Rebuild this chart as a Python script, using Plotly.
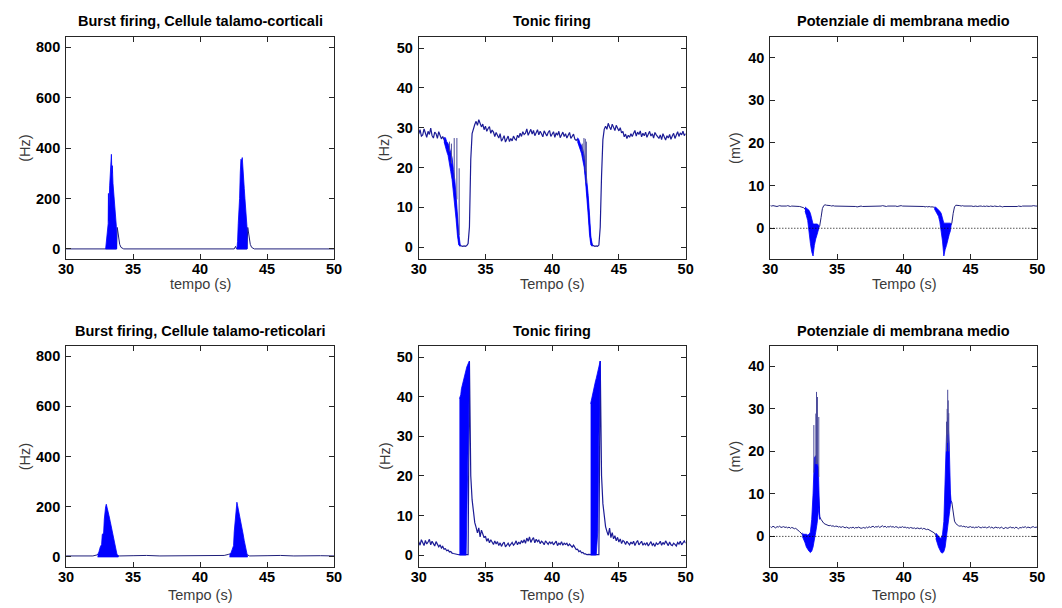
import numpy as np
import plotly.graph_objects as go
from plotly.subplots import make_subplots

FONT = "Liberation Sans, Arial, sans-serif"
LINE = "#1f1f7a"
NOISY = "#1c1c96"
FILL = "#0000ff"

# sampling grid for the noisy traces (s)
t_grid = np.round(np.arange(300, 501) / 10.0, 1)

# ---- top row: thalamo-cortical cells ----
tc_burst_t = [30.0, 32.9, 33.76, 33.82, 33.9, 34.0, 34.1, 34.2, 34.3,
              42.55, 42.65, 42.72, 43.5, 43.56, 43.65, 43.75, 43.85, 43.95, 44.05, 50.0]
tc_burst_hz = [0, 0, 0, 85, 45, 18, 6, 2, 0,
               0, 10, 0, 0, 85, 45, 18, 6, 2, 0, 0]
tc_burst_band1_t = [32.95, 33.0, 33.05, 33.1, 33.14, 33.16, 33.18, 33.2, 33.25, 33.3, 33.35, 33.38,
                    33.42, 33.45, 33.5, 33.55, 33.6, 33.65, 33.7, 33.75, 33.78]
tc_burst_band1_hi = [0, 30, 60, 100, 100, 220, 110, 160, 250, 300, 340, 375,
                     300, 330, 260, 230, 170, 155, 140, 90, 0]
tc_burst_band2_t = [42.75, 42.8, 42.85, 42.9, 42.95, 43.0, 43.05, 43.1, 43.15, 43.2, 43.25, 43.3,
                    43.35, 43.4, 43.45, 43.5, 43.52]
tc_burst_band2_hi = [0, 30, 100, 140, 200, 300, 355, 350, 362, 300, 280, 240,
                     200, 150, 140, 90, 0]

tc_tonic_hz = [
    28.4, 29.5, 27.9, 28.2, 29.7, 28.8, 27.6, 29.1, 28.3, 29.9,  # 30
    28.0, 27.4, 28.9, 28.5, 27.3, 29.0, 28.1, 27.2, 27.8, 26.9,  # 31
    26.0, 25.4, 24.5, 23.0, 21.5, 19.5, 16.5, 14.0, 10.0, 5.5,   # 32
    1.5, 0.4, 0.3, 0.2, 0.3, 0.2, 0.4, 0.9, 5.0, 22.0,           # 33
    28.5, 30.0, 30.8, 31.6, 30.6, 32.0, 31.1, 30.2, 30.9, 29.5,  # 34
    30.4, 29.1, 29.8, 30.3, 28.6, 29.4, 28.9, 27.8, 28.8, 28.2,  # 35
    27.4, 28.5, 26.6, 27.2, 28.0, 26.4, 27.1, 27.9, 26.5, 27.3,  # 36
    26.7, 27.9, 27.2, 26.9, 28.1, 27.5, 28.6, 27.8, 29.0, 28.3,  # 37
    28.6, 29.7, 28.1, 28.8, 29.6, 28.4, 29.3, 28.0, 28.9, 29.5,  # 38
    28.2, 29.1, 28.5, 27.7, 29.2, 28.6, 27.9, 28.8, 29.3, 27.8,  # 39
    28.4, 29.0, 27.6, 28.7, 28.1, 29.1, 27.5, 28.3, 28.9, 27.8,  # 40
    28.5, 27.4, 28.2, 28.8, 27.3, 27.9, 28.4, 27.1, 26.8, 27.2,  # 41
    26.0, 25.2, 24.5, 23.2, 21.5, 18.2, 15.0, 10.5, 5.5, 1.5,    # 42
    0.5, 0.3, 0.2, 0.3, 0.2, 0.5, 5.0, 18.0, 27.0, 29.6,         # 43
    30.4, 29.6, 31.1, 30.2, 29.5, 30.9, 30.0, 29.3, 30.6, 29.8,  # 44
    29.2, 30.0, 28.7, 29.1, 27.7, 28.4, 27.3, 28.1, 27.6, 28.5,  # 45
    27.8, 28.6, 29.3, 27.9, 28.9, 28.3, 29.2, 27.7, 28.6, 28.0,  # 46
    28.9, 27.6, 28.4, 29.1, 27.9, 28.5, 27.4, 28.8, 28.2, 27.6,  # 47
    27.3, 28.2, 27.0, 28.5, 27.6, 26.9, 28.0, 27.4, 28.3, 27.1,  # 48
    27.9, 28.6, 27.3, 28.4, 29.0, 27.8, 28.7, 28.2, 29.1, 28.0,  # 49
    28.5,
]
tc_tonic_band1_t = [31.9, 32.0, 32.1, 32.2, 32.3, 32.4, 32.5, 32.6, 32.7, 32.8, 32.9, 33.0, 33.1]
tc_tonic_band1_lo = [26.5, 25.5, 24.0, 23.0, 21.5, 19.0, 17.0, 14.0, 11.0, 7.0, 3.0, 0.5, 0.2]
tc_tonic_band1_hi = [27.5, 27.5, 26.5, 26.0, 25.0, 24.0, 22.5, 19.5, 17.0, 13.0, 8.0, 3.5, 0.8]
tc_tonic_band2_t = [41.9, 42.0, 42.1, 42.2, 42.3, 42.4, 42.5, 42.6, 42.7, 42.8, 42.9, 43.0]
tc_tonic_band2_lo = [26.5, 25.5, 24.5, 23.5, 22.0, 20.0, 16.5, 13.0, 8.0, 3.0, 0.5, 0.2]
tc_tonic_band2_hi = [27.5, 27.0, 26.0, 25.5, 24.5, 23.0, 20.0, 17.0, 13.0, 8.0, 2.5, 0.8]
tc_tonic_spike_t = [32.3, 32.45, 32.66, 32.86, 33.03, 42.25, 42.38, 42.48, 42.56]
tc_tonic_spike_base = [24.0, 21.0, 17.0, 12.0, 3.0, 24.0, 22.0, 19.0, 16.0]
tc_tonic_spike_top = [26.5, 26.0, 27.4, 27.4, 19.8, 26.0, 27.4, 27.2, 26.5]

tc_mem_mv = [
    5.3, 5.2, 5.3, 5.2, 5.2, 5.1, 5.2, 5.3, 5.2, 5.2,   # 30
    5.1, 5.2, 5.2, 5.3, 5.2, 5.1, 5.2, 5.2, 5.1, 5.2,   # 31
    5.1, 5.2, 5.1, 5.0, 4.9, 4.8, 4.5, 4.0, 3.2, 2.0,   # 32
    0.0, -2.0, -3.0, -1.5, -0.7, -0.2, 0.2, 0.6, 2.5, 4.6,  # 33
    5.3, 5.5, 5.4, 5.4, 5.3, 5.3, 5.2, 5.3, 5.2, 5.2,   # 34
    5.2, 5.1, 5.2, 5.2, 5.1, 5.2, 5.1, 5.2, 5.2, 5.1,   # 35
    5.2, 5.1, 5.1, 5.2, 5.1, 5.0, 5.1, 5.1, 5.2, 5.1,   # 36
    5.1, 5.2, 5.1, 5.1, 5.2, 5.1, 5.2, 5.2, 5.1, 5.2,   # 37
    5.2, 5.1, 5.2, 5.2, 5.3, 5.2, 5.2, 5.1, 5.2, 5.2,   # 38
    5.2, 5.2, 5.3, 5.2, 5.2, 5.1, 5.2, 5.2, 5.3, 5.2,   # 39
    5.2, 5.1, 5.2, 5.2, 5.1, 5.2, 5.2, 5.1, 5.2, 5.1,   # 40
    5.2, 5.1, 5.1, 5.2, 5.1, 5.1, 5.0, 5.1, 5.0, 5.1,   # 41
    5.0, 5.0, 5.0, 4.8, 4.4, 4.0, 3.6, 2.8, 1.5, -0.3,  # 42
    -2.5, -2.0, -1.5, -1.0, 0.0, 0.6, 1.2, 3.5, 5.0, 5.4,  # 43
    5.4, 5.3, 5.3, 5.2, 5.3, 5.2, 5.2, 5.3, 5.2, 5.2,   # 44
    5.2, 5.2, 5.1, 5.2, 5.2, 5.1, 5.2, 5.2, 5.2, 5.1,   # 45
    5.2, 5.1, 5.2, 5.1, 5.1, 5.2, 5.1, 5.1, 5.2, 5.1,   # 46
    5.1, 5.1, 5.2, 5.1, 5.0, 5.1, 5.1, 5.0, 5.1, 5.1,   # 47
    5.0, 5.1, 5.1, 5.0, 5.1, 5.1, 5.2, 5.1, 5.1, 5.2,   # 48
    5.2, 5.1, 5.2, 5.2, 5.1, 5.2, 5.2, 5.3, 5.2, 5.2,   # 49
    5.2,
]
tc_mem_band1_t = [32.6, 32.7, 32.8, 32.9, 33.0, 33.1, 33.2, 33.3, 33.4, 33.5, 33.6, 33.65]
tc_mem_band1_lo = [4.0, 3.0, 1.8, 0.0, -3.5, -5.5, -6.5, -4.0, -2.5, -1.5, -0.5, 0.2]
tc_mem_band1_hi = [5.0, 4.8, 4.6, 4.2, 3.5, 2.0, 1.0, 1.0, 1.0, 1.0, 0.8, 0.6]
tc_mem_band2_t = [42.3, 42.4, 42.5, 42.6, 42.7, 42.8, 42.9, 43.0, 43.1, 43.2, 43.3, 43.4, 43.5, 43.55]
tc_mem_band2_lo = [4.5, 3.9, 3.5, 2.8, 1.5, -0.5, -3.0, -6.5, -5.0, -4.0, -3.0, -1.5, -0.5, 0.5]
tc_mem_band2_hi = [5.0, 4.9, 4.6, 4.4, 4.0, 3.5, 2.5, 1.2, 1.2, 1.2, 1.2, 1.2, 1.2, 1.0]

# ---- bottom row: thalamo-reticular cells ----
tr_burst_t = [30.0, 31.0, 32.0, 32.3, 32.35, 33.9, 34.0, 35.0, 36.0, 37.0, 38.0, 39.0,
              40.0, 41.0, 41.8, 42.1, 42.2, 43.55, 43.7, 45.0, 46.0, 47.0, 48.0, 49.0, 50.0]
tr_burst_hz = [4, 5, 4, 8, 10, 5, 4, 5, 6, 4, 5, 4,
               5, 6, 6, 10, 12, 8, 4, 5, 6, 4, 5, 5, 4]
tr_burst_band1_t = [32.35, 32.45, 32.55, 32.65, 32.7, 32.8, 32.85, 32.9, 32.95, 33.0, 33.05,
                    33.1, 33.2, 33.3, 33.4, 33.5, 33.6, 33.7, 33.8, 33.9]
tr_burst_band1_hi = [8, 20, 40, 50, 90, 95, 150, 190, 200, 210, 195,
                     180, 165, 140, 115, 80, 55, 30, 10, 5]
tr_burst_band2_t = [42.2, 42.3, 42.4, 42.45, 42.5, 42.55, 42.6, 42.65, 42.7, 42.75, 42.8,
                    42.9, 43.0, 43.1, 43.2, 43.3, 43.4, 43.5, 43.55]
tr_burst_band2_hi = [8, 15, 30, 45, 45, 100, 130, 180, 210, 218, 205,
                     180, 155, 125, 95, 65, 40, 18, 8]

tr_tonic_hz = [
    3.4, 2.5, 3.9, 3.1, 2.4, 3.7, 2.8, 3.3, 4.0, 2.6,   # 30
    3.5, 2.9, 2.3, 3.4, 2.7, 2.1, 2.6, 1.8, 2.2, 1.5,   # 31
    1.6, 1.1, 1.3, 0.8, 0.9, 0.5, 0.4, 0.3, 0.2, 0.1,   # 32
    0.1, 0.1, 0.1, 0.1, 0.1, 0.1, 0.1, 0.1, 49.0, 20.0,  # 33
    14.0, 10.5, 8.2, 7.0, 5.6, 6.9, 4.6, 6.3, 5.0, 4.4,  # 34
    4.8, 3.5, 4.2, 3.1, 3.9, 3.3, 2.7, 3.6, 2.8, 3.4,   # 35
    2.4, 3.1, 2.2, 2.9, 3.3, 2.1, 2.7, 3.0, 2.3, 2.8,   # 36
    3.2, 2.5, 2.9, 3.6, 2.6, 3.3, 2.8, 3.7, 3.1, 3.9,   # 37
    3.0, 4.3, 3.5, 4.6, 3.2, 3.9, 4.4, 3.1, 4.0, 3.4,   # 38
    3.8, 2.9, 3.5, 3.2, 2.6, 3.6, 3.0, 2.7, 3.4, 2.9,   # 39
    3.3, 2.6, 3.1, 3.5, 2.4, 3.0, 2.7, 3.4, 2.5, 3.0,   # 40
    2.7, 3.0, 2.3, 2.8, 2.4, 2.0, 2.5, 1.8, 1.4, 1.5,   # 41
    0.9, 1.1, 0.6, 0.7, 0.3, 0.3, 0.1, 0.2, 0.1, 0.1,   # 42
    0.1, 0.1, 0.1, 0.1, 0.1, 0.1, 49.0, 20.0, 13.0, 9.0,  # 43
    7.2, 6.0, 5.0, 6.8, 4.4, 5.7, 4.1, 4.9, 3.6, 4.5,   # 44
    3.3, 4.1, 2.9, 3.7, 3.4, 2.7, 3.5, 3.0, 2.6, 3.3,   # 45
    2.8, 3.5, 2.4, 3.2, 3.7, 2.6, 3.1, 3.5, 2.5, 3.0,   # 46
    2.6, 3.2, 2.3, 2.9, 3.4, 2.5, 2.9, 2.2, 3.1, 2.7,   # 47
    2.9, 3.5, 2.5, 3.2, 2.7, 3.6, 2.8, 2.4, 3.3, 2.6,   # 48
    2.4, 3.0, 2.7, 2.3, 3.2, 2.8, 3.5, 2.6, 3.1, 3.6,   # 49
    3.0,
]
tr_tonic_band1_t = [33.05, 33.1, 33.15, 33.2, 33.3, 33.4, 33.5, 33.55, 33.6, 33.7, 33.8]
tr_tonic_band1_lo = [0.0, 0.0, 0.0, 0.0, 0.0, 0.0, 0.0, 0.0, 6.0, 25.0, 45.0]
tr_tonic_band1_hi = [39.5, 40.0, 40.5, 42.0, 43.5, 45.0, 46.0, 46.8, 47.5, 48.3, 49.0]
tr_tonic_band2_t = [42.88, 42.95, 43.05, 43.15, 43.25, 43.3, 43.35, 43.42, 43.5, 43.6]
tr_tonic_band2_lo = [0.0, 0.0, 0.0, 0.0, 0.0, 0.0, 0.0, 6.0, 30.0, 45.0]
tr_tonic_band2_hi = [38.2, 39.5, 40.8, 42.5, 44.0, 44.6, 45.5, 46.5, 47.5, 49.0]

tr_mem_mv = [
    2.3, 2.1, 2.4, 2.2, 2.0, 2.3, 2.2, 2.4, 2.1, 2.2,   # 30
    2.3, 2.1, 2.2, 2.0, 2.2, 1.9, 2.1, 2.0, 1.8, 1.9,   # 31
    1.7, 1.4, 1.1, 0.8, 0.4, 0.0, -0.5, -1.0, -1.4, -1.6,  # 32
    -1.4, 0.2, 3.0, 8.0, 10.0, 10.5, 10.0, 4.6, 4.0, 3.4,  # 33
    3.1, 2.9, 2.8, 2.7, 2.5, 2.6, 2.4, 2.5, 2.3, 2.4,   # 34
    2.4, 2.2, 2.3, 2.1, 2.3, 2.2, 2.0, 2.2, 2.1, 1.9,   # 35
    2.1, 2.0, 2.2, 1.9, 2.1, 2.0, 2.2, 2.1, 1.9, 2.0,   # 36
    2.1, 1.9, 2.2, 2.0, 2.3, 2.1, 2.2, 2.4, 2.1, 2.3,   # 37
    2.2, 2.4, 2.1, 2.3, 2.5, 2.2, 2.4, 2.1, 2.3, 2.2,   # 38
    2.4, 2.2, 2.3, 2.1, 2.3, 2.2, 2.0, 2.2, 2.1, 2.3,   # 39
    2.1, 2.2, 2.0, 2.1, 1.9, 2.1, 2.0, 1.9, 2.0, 1.8,   # 40
    2.0, 1.9, 1.8, 2.0, 1.7, 1.9, 1.8, 1.6, 1.7, 1.5,   # 41
    1.5, 1.3, 1.0, 0.8, 0.2, -0.5, -1.2, -1.8, -2.2, -1.7,  # 42
    -0.8, 4.5, 10.0, 14.0, 12.0, 8.5, 8.0, 5.5, 3.6, 3.0,  # 43
    2.7, 2.5, 2.4, 2.5, 2.3, 2.4, 2.2, 2.3, 2.1, 2.2,   # 44
    2.3, 2.1, 2.2, 2.0, 2.2, 2.1, 2.3, 2.1, 2.0, 2.2,   # 45
    2.1, 2.2, 2.0, 2.1, 2.3, 2.0, 2.2, 1.9, 2.1, 2.2,   # 46
    2.0, 2.1, 1.9, 2.2, 2.0, 1.8, 2.1, 2.0, 1.9, 2.1,   # 47
    2.2, 2.0, 2.1, 1.9, 2.2, 2.0, 1.8, 2.1, 2.0, 2.2,   # 48
    2.1, 2.3, 2.0, 2.2, 2.1, 2.0, 2.2, 2.3, 2.1, 2.2,   # 49
    2.2,
]
tr_mem_band1_t = [32.4, 32.5, 32.6, 32.7, 32.8, 32.9, 33.0, 33.1, 33.2, 33.25, 33.3, 33.4,
                  33.5, 33.6, 33.65, 33.7]
tr_mem_band1_lo = [0.0, -0.8, -1.5, -2.5, -3.0, -3.5, -3.8, -3.5, -2.5, -2.0, -1.0, 1.0,
                   3.0, 5.0, 7.0, 4.0]
tr_mem_band1_hi = [0.8, 0.5, 0.5, 0.5, 0.3, 0.5, 1.0, 4.0, 10.0, 17.0, 18.5, 19.0,
                   18.0, 16.0, 12.0, 5.0]
tr_mem_band2_t = [42.4, 42.5, 42.6, 42.7, 42.8, 42.9, 43.0, 43.1, 43.2, 43.3, 43.4, 43.5, 43.55]
tr_mem_band2_lo = [-0.5, -1.5, -2.5, -3.3, -3.8, -3.9, -3.6, -2.5, -1.0, 1.5, 5.0, 7.5, 8.0]
tr_mem_band2_hi = [0.8, 0.4, 0.0, -0.3, -0.5, 0.5, 3.5, 16.0, 24.0, 28.0, 22.0, 10.0, 8.6]
tr_mem_spike_t = [33.26, 33.41, 33.46, 33.53, 33.63, 43.2, 43.25, 43.29, 43.33, 43.37]
tr_mem_spike_base = [15, 17, 17, 17, 14, 20, 22, 24, 24, 20]
tr_mem_spike_top = [26.2, 28.9, 34.0, 32.8, 28.1, 27.0, 30.0, 34.5, 32.0, 29.0]

zero_level = 0

titles = ["Burst firing, Cellule talamo-corticali", "Tonic firing", "Potenziale di membrana medio",
          "Burst firing, Cellule talamo-reticolari", "Tonic firing", "Potenziale di membrana medio"]
y_labels = ["(Hz)", "(Hz)", "(mV)", "(Hz)", "(Hz)", "(mV)"]
x_labels = ["tempo (s)", "Tempo (s)", "Tempo (s)", "Tempo (s)", "Tempo (s)", "Tempo (s)"]
x_ticks = [30, 35, 40, 45, 50]
y_ticks = [[0, 200, 400, 600, 800], [0, 10, 20, 30, 40, 50], [0, 10, 20, 30, 40]] * 2
y_ranges = [[-40, 840], [-3, 52.8], [-7.2, 44.8]] * 2

for arr in (tc_tonic_hz, tc_mem_mv, tr_tonic_hz, tr_mem_mv):
    assert len(arr) == len(t_grid)


def band_xy(t, hi, lo=None):
    if lo is None:
        lo = [0] * len(t)
    return list(t) + list(t)[::-1], list(hi) + list(lo)[::-1]


def spikes_xy(t, base, top):
    xs, ys = [], []
    for a, b, c in zip(t, base, top):
        xs += [a, a, None]
        ys += [b, c, None]
    return xs, ys


fig = make_subplots(rows=2, cols=3)


def add_line(x, y, r, c, color=LINE, width=1):
    fig.add_trace(go.Scatter(x=list(x), y=y, mode="lines", line=dict(color=color, width=width),
                             hoverinfo="skip", showlegend=False), row=r, col=c)


def add_band(t, hi, lo, r, c):
    bx, by = band_xy(t, hi, lo)
    fig.add_trace(go.Scatter(x=bx, y=by, mode="lines", fill="toself", fillcolor=FILL,
                             line=dict(color=FILL, width=0.8), hoverinfo="skip",
                             showlegend=False), row=r, col=c)


def add_spikes(t, base, top, r, c):
    sx, sy = spikes_xy(t, base, top)
    fig.add_trace(go.Scatter(x=sx, y=sy, mode="lines", line=dict(color="#4a4a9a", width=1),
                             hoverinfo="skip", showlegend=False), row=r, col=c)


# panel 1
add_line(tc_burst_t, tc_burst_hz, 1, 1)
add_band(tc_burst_band1_t, tc_burst_band1_hi, None, 1, 1)
add_band(tc_burst_band2_t, tc_burst_band2_hi, None, 1, 1)
# panel 2
add_line(t_grid, tc_tonic_hz, 1, 2, NOISY, 1.2)
add_band(tc_tonic_band1_t, tc_tonic_band1_hi, tc_tonic_band1_lo, 1, 2)
add_band(tc_tonic_band2_t, tc_tonic_band2_hi, tc_tonic_band2_lo, 1, 2)
add_spikes(tc_tonic_spike_t, tc_tonic_spike_base, tc_tonic_spike_top, 1, 2)
# panel 3
add_line(t_grid, tc_mem_mv, 1, 3)
add_band(tc_mem_band1_t, tc_mem_band1_hi, tc_mem_band1_lo, 1, 3)
add_band(tc_mem_band2_t, tc_mem_band2_hi, tc_mem_band2_lo, 1, 3)
# panel 4
add_line(tr_burst_t, tr_burst_hz, 2, 1)
add_band(tr_burst_band1_t, tr_burst_band1_hi, None, 2, 1)
add_band(tr_burst_band2_t, tr_burst_band2_hi, None, 2, 1)
# panel 5
add_line(t_grid, tr_tonic_hz, 2, 2, NOISY, 1.2)
add_band(tr_tonic_band1_t, tr_tonic_band1_hi, tr_tonic_band1_lo, 2, 2)
add_band(tr_tonic_band2_t, tr_tonic_band2_hi, tr_tonic_band2_lo, 2, 2)
# panel 6
add_line(t_grid, tr_mem_mv, 2, 3)
add_band(tr_mem_band1_t, tr_mem_band1_hi, tr_mem_band1_lo, 2, 3)
add_band(tr_mem_band2_t, tr_mem_band2_hi, tr_mem_band2_lo, 2, 3)
add_spikes(tr_mem_spike_t, tr_mem_spike_base, tr_mem_spike_top, 2, 3)

for r, c in [(1, 3), (2, 3)]:
    fig.add_hline(y=zero_level, line=dict(color="black", width=1, dash="1px,2px"), row=r, col=c)

W, H = 1062, 608


def px(x):
    return x / W


def py(y):
    return 1 - y / H


x_dom = [(59, 331), (417, 688), (774, 1045)]
y_dom = [(37, 259), (346, 567)]
title_y = [21, 331]
xlab_y = [284, 595]
ylab_x = [17, 382, 738]

frame = dict(showline=True, linecolor="#262626", linewidth=1, mirror="allticks",
             ticks="inside", ticklen=5, tickcolor="#262626", showgrid=False, zeroline=False,
             tickfont=dict(family=FONT, size=14.5, color="black", weight="bold"))

annotations = []
for i in range(6):
    r, c = divmod(i, 3)
    n = "" if i == 0 else str(i + 1)
    x0, x1 = x_dom[c]
    y0, y1 = y_dom[r]
    fig.layout["xaxis" + n].update(domain=[px(x0), px(x1)], range=[30, 50], tickvals=x_ticks,
                                   ticklabelstandoff=-3, **frame)
    fig.layout["yaxis" + n].update(domain=[py(y1), py(y0)], range=y_ranges[i],
                                   tickvals=y_ticks[i], ticklabelstandoff=2, **frame)
    cx = (x0 + x1) / 2
    annotations.append(dict(text="<b>%s</b>" % titles[i], x=px(cx), y=py(title_y[r]),
                            xref="paper", yref="paper", showarrow=False, xanchor="center",
                            yanchor="middle", font=dict(family=FONT, size=14.5, color="black")))
    annotations.append(dict(text=x_labels[i], x=px(cx), y=py(xlab_y[r]),
                            xref="paper", yref="paper", showarrow=False, xanchor="center",
                            yanchor="middle", font=dict(family=FONT, size=14.5, color="#3a3a3a")))
    annotations.append(dict(text=y_labels[i], x=px(ylab_x[c]), y=py((y0 + y1) / 2),
                            xref="paper", yref="paper", showarrow=False, xanchor="center",
                            yanchor="middle", textangle=-90,
                            font=dict(family=FONT, size=14.5, color="#3a3a3a")))

fig.update_layout(width=W, height=H, margin=dict(l=0, r=0, t=0, b=0), autosize=False,
                  paper_bgcolor="white", plot_bgcolor="white", annotations=annotations,
                  showlegend=False, hovermode=False)

# drop the default body margin so the figure sits exactly in the window
fig.write_html("out.html", config={"displayModeBar": False},
               post_script="document.body.style.margin='0';document.body.style.overflow='hidden';")
